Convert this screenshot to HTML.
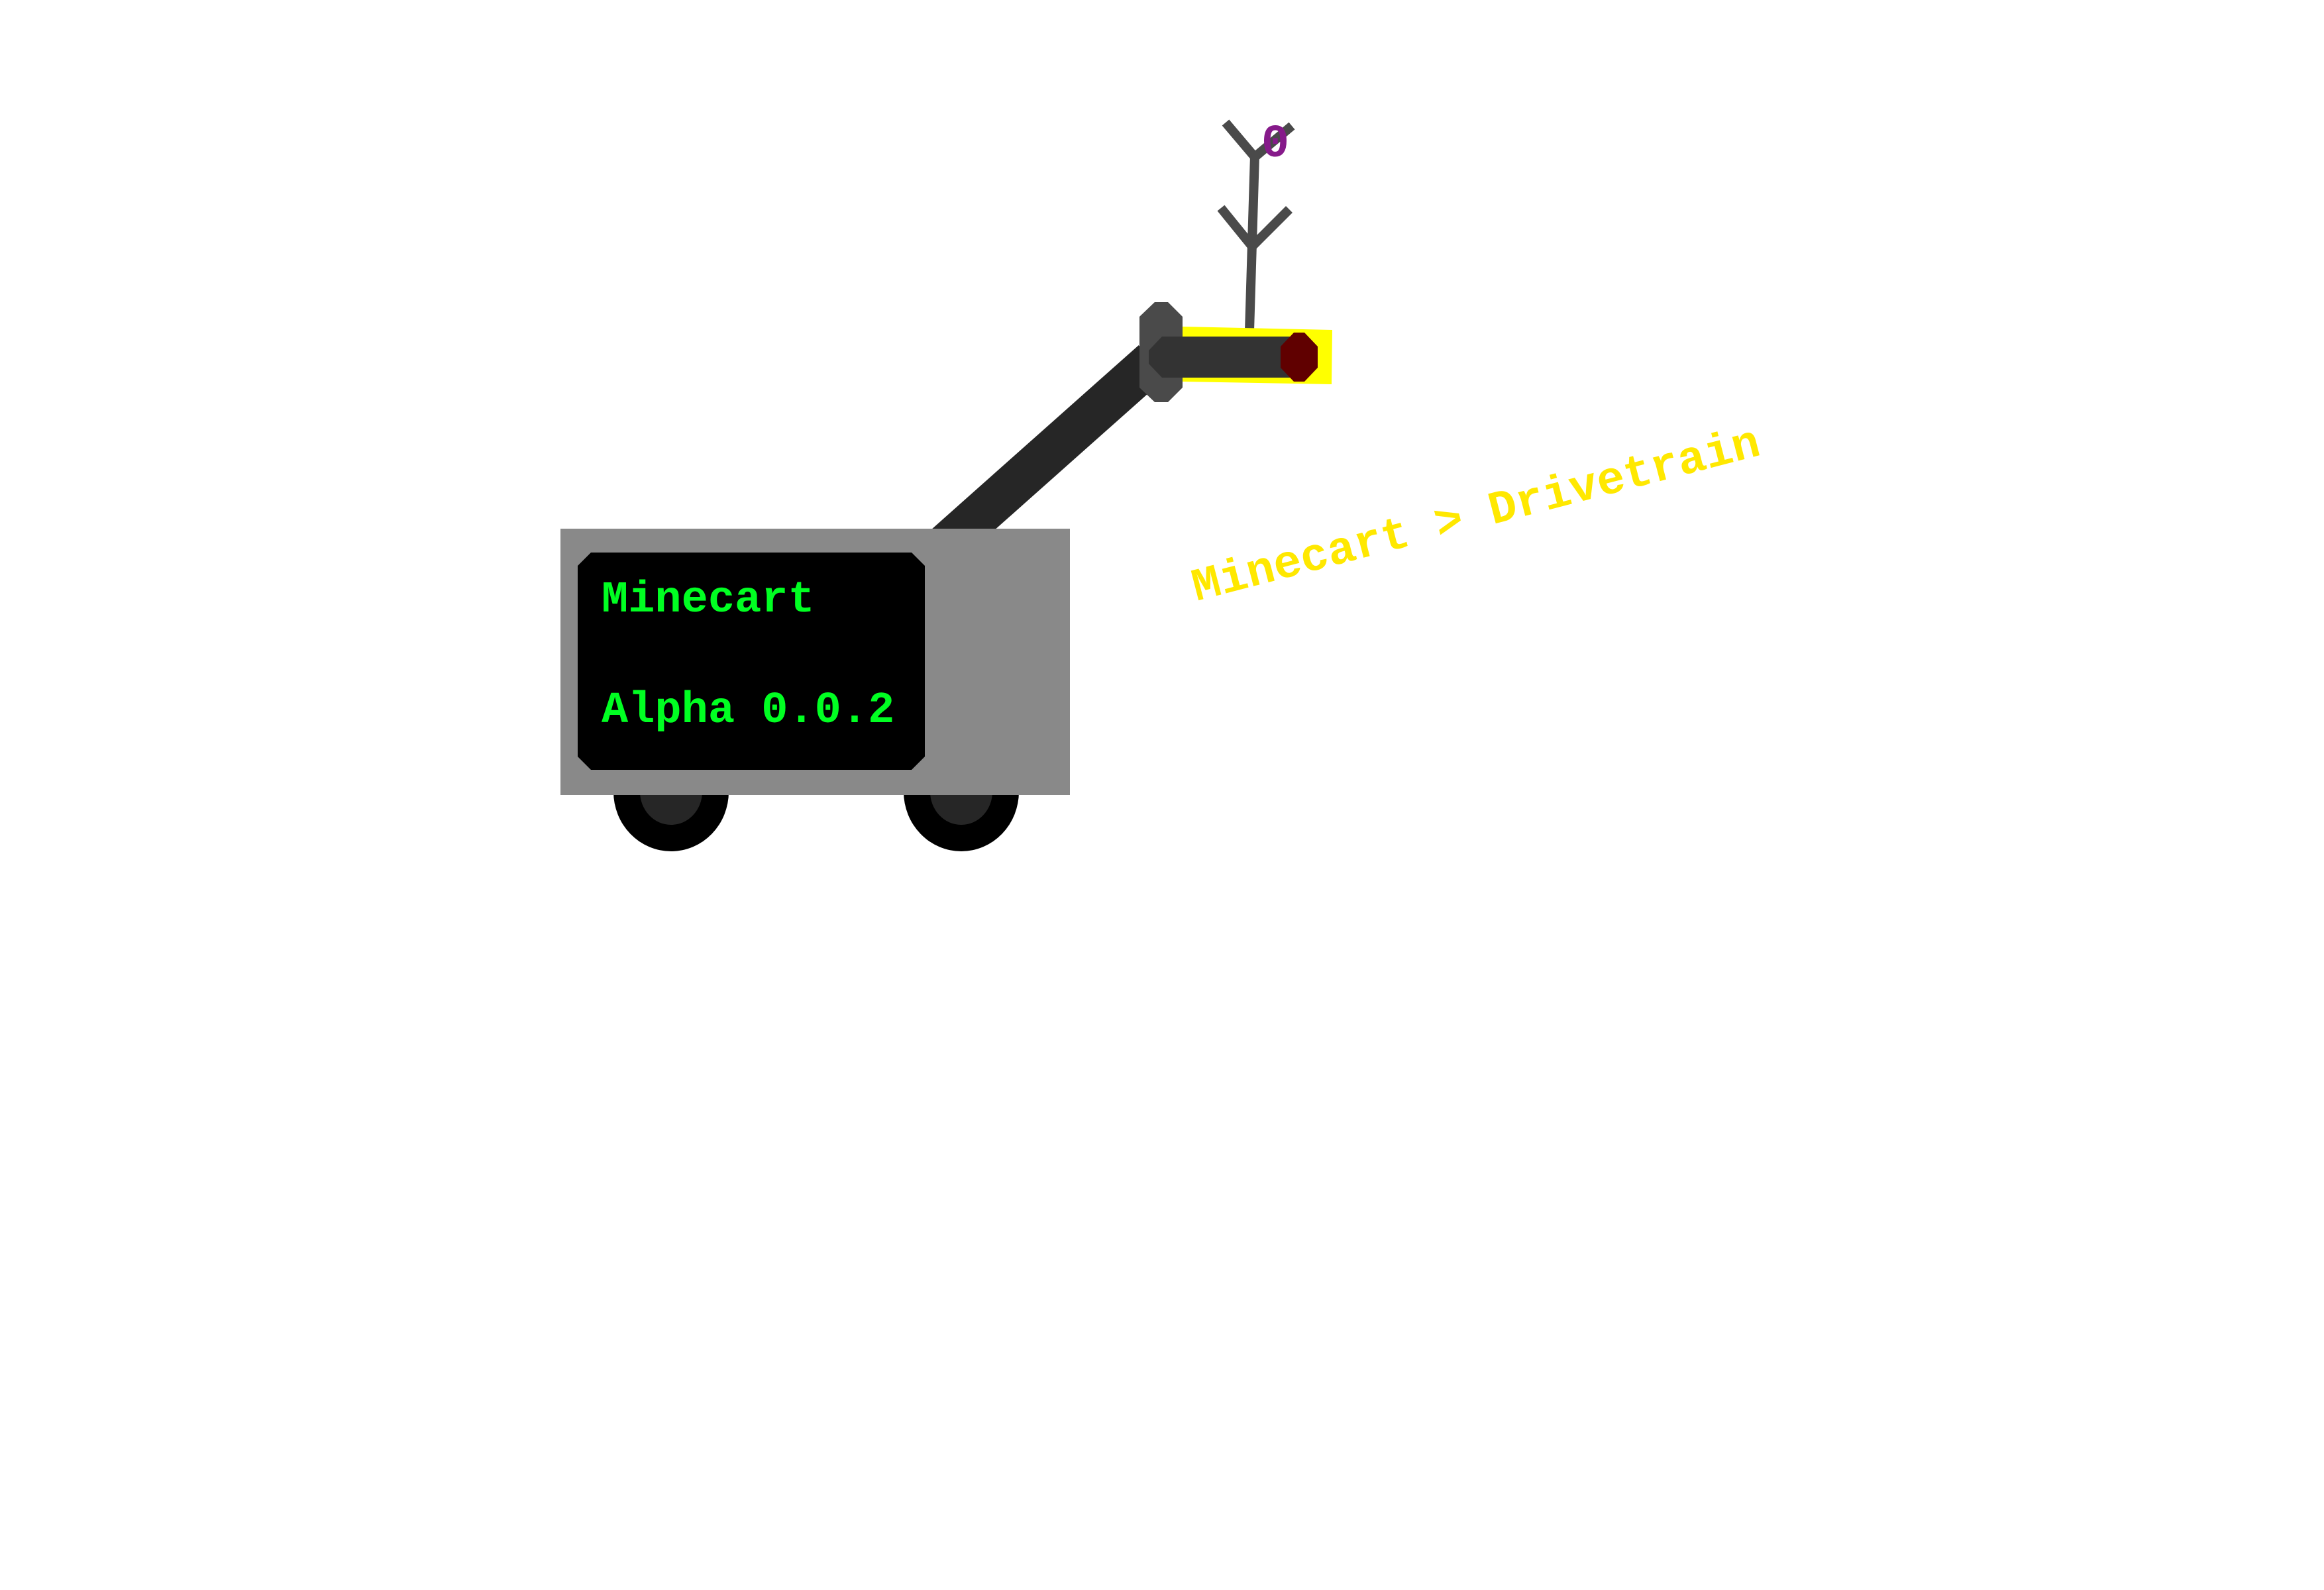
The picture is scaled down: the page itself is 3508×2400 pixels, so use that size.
<!DOCTYPE html>
<html><head><meta charset="utf-8"><style>
html,body{margin:0;padding:0;background:#fff;}
svg{display:block;}
text{font-family:"Liberation Mono","DejaVu Sans Mono",monospace;}
</style></head><body>
<svg width="3508" height="2400" viewBox="0 0 3508 2400" xmlns="http://www.w3.org/2000/svg">
<rect width="3508" height="2400" fill="#fff"/>
<!-- arm -->
<line x1="1425" y1="825" x2="1740" y2="545" stroke="#262626" stroke-width="64"/>
<!-- wheels -->
<ellipse cx="1013" cy="1195" rx="87" ry="90" fill="#000"/>
<ellipse cx="1013" cy="1195" rx="47" ry="50" fill="#262626"/>
<ellipse cx="1451" cy="1195" rx="87" ry="90" fill="#000"/>
<ellipse cx="1451" cy="1195" rx="47" ry="50" fill="#262626"/>
<!-- body -->
<rect x="846" y="798" width="769" height="402" fill="#898989"/>
<polygon points="892,834 1376,834 1396,854 1396,1142 1376,1162 892,1162 872,1142 872,854" fill="#000"/>
<text x="908" y="923" font-size="67" font-weight="bold" fill="#00ff22">Minecart</text>
<text x="908" y="1090" font-size="67" font-weight="bold" fill="#00ff22">Alpha 0.0.2</text>
<!-- antenna -->
<g stroke="#4a4a4a" stroke-width="14" fill="none">
<line x1="1886" y1="500" x2="1894" y2="235"/>
<line x1="1890" y1="372" x2="1843" y2="314"/>
<line x1="1890" y1="372" x2="1946" y2="316"/>
<line x1="1894" y1="237" x2="1850" y2="185"/>
<line x1="1894" y1="237" x2="1950" y2="190"/>
</g>
<text x="1904" y="236" font-size="70" font-weight="bold" fill="#861a8a">0</text>
<!-- yellow highlight -->
<polygon points="1785,493 2011,498 2010,580 1785,576" fill="#ffff00"/>
<!-- joint -->
<polygon points="1743,456 1763,456 1785,478 1785,585 1763,607 1743,607 1720,585 1720,478" fill="#4a4a4a"/>
<!-- bar -->
<polygon points="1754,508 1953,508 1953,570 1754,570 1734,549 1734,529" fill="#333333"/>
<!-- red cap -->
<polygon points="1953,502 1969,502 1989,523 1989,555 1969,576 1953,576 1933,555 1933,523" fill="#600000"/>
<!-- label -->
<text x="1806" y="907" font-size="70" font-weight="bold" fill="#ffe800" transform="rotate(-14.5 1806 907)">Minecart &gt; Drivetrain</text>
</svg>
</body></html>
